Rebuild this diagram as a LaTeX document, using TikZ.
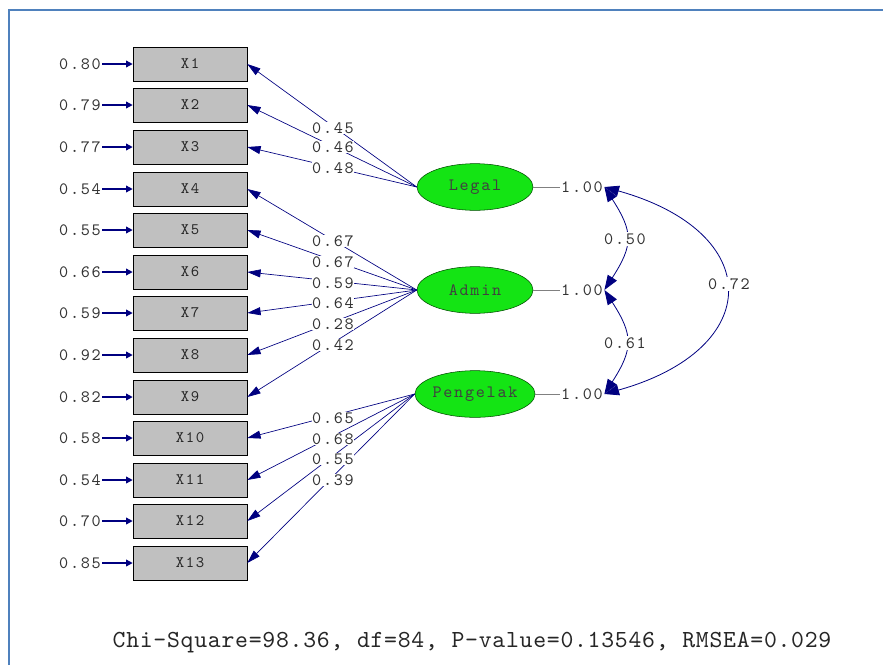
\documentclass[tikz,border=0pt]{standalone}
\usepackage{fontspec}
\newfontfamily\lisfont[LetterSpace=10]{lmmono10-regular.otf}
\newfontfamily\fitfont[LetterSpace=3]{lmmono10-regular.otf}
\usetikzlibrary{arrows.meta}
\usetikzlibrary{shapes.geometric}

\definecolor{lisnavy}{RGB}{0,0,128}
\definecolor{lisgreen}{RGB}{20,228,20}
\definecolor{lisgray}{RGB}{192,192,192}
\definecolor{frameblue}{RGB}{79,129,189}

\tikzset{
  obsbox/.style={draw=black, fill=lisgray, minimum width=85.5pt, minimum height=25.5pt, inner sep=0pt, font=\lisfont\fontsize{12}{13}\selectfont, text=black!85},
  latent/.style={ellipse, draw=black!70!green, fill=lisgreen, minimum width=87pt, minimum height=35pt, inner sep=0pt, font=\lisfont\fontsize{13}{14}\selectfont, text=black!75},
  val/.style={font=\lisfont\fontsize{13}{14}\selectfont, text=black!80, inner sep=1pt},
  coef/.style={val, fill=white},
  loadarrow/.style={draw=lisnavy, line width=0.5pt, -{Triangle[length=10pt,width=6pt]}},
  errarrow/.style={draw=lisnavy, line width=1pt, -{Triangle[length=5pt,width=5pt]}},
  covarrow/.style={draw=lisnavy, line width=0.6pt, {Triangle[length=11pt,width=8pt]}-{Triangle[length=11pt,width=8pt]}}
}

\begin{document}
\begin{tikzpicture}[x=0.75pt,y=-0.75pt]
  \useasboundingbox (0,0) rectangle (883,665);
  \draw[frameblue, line width=1.5pt] (9,665) -- (9,10) -- (883,10);

  % indicators and error variances
  \foreach \i/\y/\e in {1/64/0.80, 2/105/0.79, 3/147/0.77, 4/189/0.54, 5/230/0.55, 6/272/0.66, 7/313/0.59,
                        8/355/0.92, 9/397/0.82, 10/438/0.58, 11/480/0.54, 12/521/0.70, 13/563/0.85} {
      \node[obsbox] (x\i) at (190,\y) {X\i};
      \node[val] (e\i) at (80,\y) {\e};
      \draw[errarrow] (e\i) -- (x\i);
  }

  % latent variables
  \node[latent] (legal) at (475,187) {Legal};
  \node[latent] (admin) at (475,290) {Admin};
  \node[latent] (pengelak) at (475,394) {Pengelak};

  \foreach \n/\y in {legal/187, admin/290, pengelak/394} {
      \node[val] (v\n) at (582,\y) {1.00};
      \draw[gray, line width=0.4pt] (\n) -- (v\n);
  }

  % loadings
  \foreach \f/\i in {legal/1, legal/2, legal/3, admin/4, admin/5, admin/6, admin/7, admin/8, admin/9,
                     pengelak/10, pengelak/11, pengelak/12, pengelak/13} {
      \draw[loadarrow] (\f.west) -- (x\i.east);
  }
  \foreach \i/\y/\l in {1/128/0.45, 2/147/0.46, 3/168/0.48, 4/241/0.67, 5/262/0.67, 6/283/0.59, 7/303/0.64,
                        8/324/0.28, 9/345/0.42, 10/418/0.65, 11/439/0.68, 12/459/0.55, 13/480/0.39} {
      \node[coef, inner sep=0.5pt] (l\i) at (333,\y) {\l};
  }

  % correlations
  \draw[covarrow] (vlegal.east) .. controls +(29,45) and +(29,-45) .. (vadmin.east);
  \draw[covarrow] (vadmin.east) .. controls +(29,45) and +(29,-45) .. (vpengelak.east);
  \draw[covarrow] (vlegal.east) .. controls +(161,45) and +(161,-45) .. (vpengelak.east);
  \node[coef] (r12) at (625,239) {0.50};
  \node[coef] (r23) at (625,343) {0.61};
  \node[coef] (r13) at (729,284) {0.72};

  \node[font=\fitfont\fontsize{18.4}{20}\selectfont, text=black!85] (fit) at (472,643)
      {Chi-Square=98.36, df=84, P-value=0.13546, RMSEA=0.029};
\end{tikzpicture}
\end{document}
